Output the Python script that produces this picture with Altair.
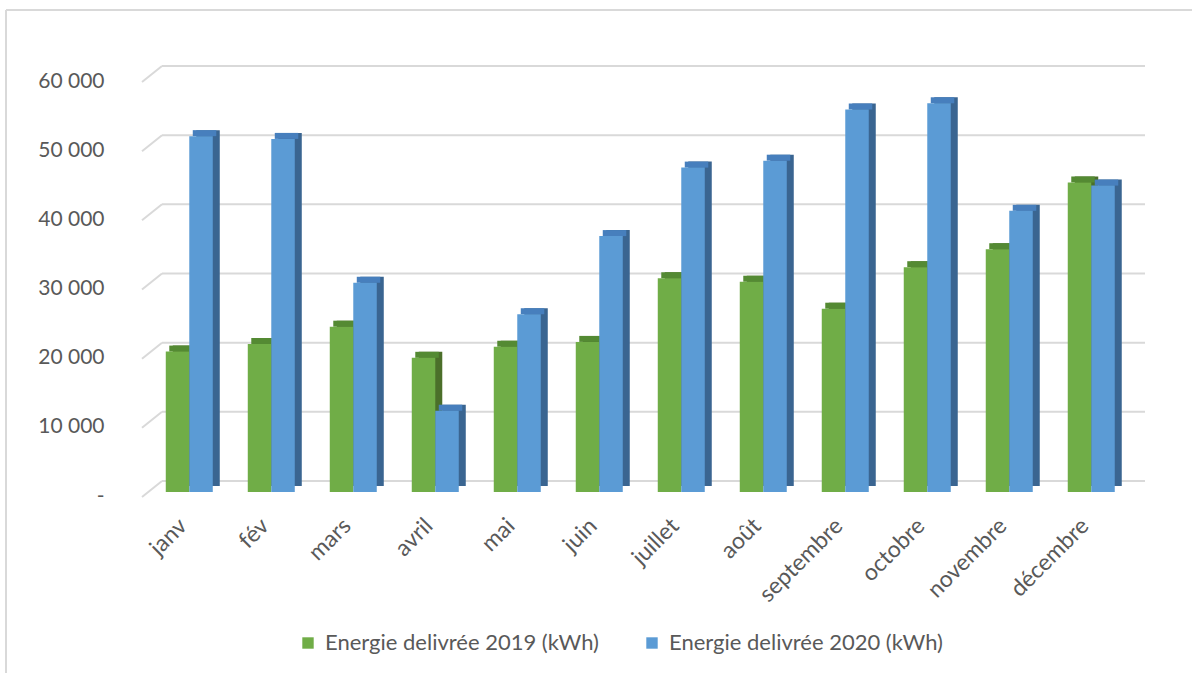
import altair as alt
import pandas as pd

MONTHS = ["janv", "fév", "mars", "avril", "mai", "juin", "juillet", "août",
          "septembre", "octobre", "novembre", "décembre"]
E2019 = [20300, 21400, 23900, 19400, 21000, 21700, 30900, 30400, 26500, 32500, 35100, 44750]
E2020 = [51450, 51050, 30250, 11750, 25700, 37000, 46900, 47900, 55300, 56200, 40650, 44300]
SERIES = ["Energie delivrée 2019 (kWh)", "Energie delivrée 2020 (kWh)"]
TICKS = [0, 10000, 20000, 30000, 40000, 50000, 60000]

FRONT = ["#70ad47", "#5b9bd5"]
TOP = ["#548a33", "#477fbd"]
SIDE = ["#4b6f2a", "#3a6591"]

rows = []
for m, a, b in zip(MONTHS, E2019, E2020):
    rows.append({"month": m, "series": SERIES[0], "value": a})
    rows.append({"month": m, "series": SERIES[1], "value": b})
df = pd.DataFrame(rows)
grid = pd.DataFrame({"v": TICKS})

W, H = 1003, 415
BW = 23.5
DEPTH_X, DEPTH_Y = 7, 6

xs = alt.X("month:N", sort=MONTHS,
           scale=alt.Scale(paddingInner=0, paddingOuter=0.116, align=0.33),
           axis=alt.Axis(title=None, domain=False, ticks=False, labelAngle=-45,
                         labelAlign="right", labelBaseline="middle", labelPadding=30,
                         labelOffset=-6,
                         labelFont="Lato", labelFontSize=23, labelColor="#595959"))
yscale = alt.Scale(domain=[0, 60000], nice=False)
ys = alt.Y("value:Q", scale=yscale,
           axis=alt.Axis(title=None, values=TICKS, grid=False, domain=False, ticks=False,
                         labelPadding=38, labelFont="Lato", labelFontSize=21,
                         labelColor="#595959", labelOffset=4,
                         labelExpr="datum.value == 0 ? '-\u00a0\u00a0\u00a0' : replace(format(datum.value, ','), ',', ' ')"))

color = alt.Color("series:N", scale=alt.Scale(domain=SERIES, range=FRONT),
                  legend=alt.Legend(title=None, orient="none", legendX=155, legendY=555,
                                    direction="horizontal", symbolType="square",
                                    symbolSize=130, symbolStrokeWidth=0, labelFont="Lato",
                                    labelFontSize=22, labelColor="#595959", labelOffset=6,
                                    columnPadding=42, labelLimit=400))

diag = alt.Chart(grid).mark_rule(color="#d9d9d9", strokeWidth=2, yOffset=5, y2Offset=-11).encode(
    x=alt.value(0), x2=alt.value(20),
    y=alt.Y("v:Q", scale=yscale), y2="v:Q")
back = alt.Chart(grid).mark_rule(color="#d9d9d9", strokeWidth=2, yOffset=-11, y2Offset=-11).encode(
    x=alt.value(20), x2=alt.value(W),
    y=alt.Y("v:Q", scale=yscale), y2="v:Q")

layers = [diag, back]
for i, s in enumerate(SERIES):
    off = -BW / 2 if i == 0 else BW / 2
    base = alt.Chart(df).transform_filter(alt.datum.series == s)
    side = base.mark_bar(color=SIDE[i], width=BW, xOffset=off + DEPTH_X,
                         yOffset=-DEPTH_Y, y2Offset=-DEPTH_Y).encode(
        x=xs, y=ys, y2=alt.datum(0))
    top = base.mark_bar(color=TOP[i], width=BW, xOffset=off + DEPTH_X / 2,
                        yOffset=-DEPTH_Y, y2Offset=0).encode(
        x=xs, y=ys, y2="value:Q")
    front = base.mark_bar(width=BW, xOffset=off).encode(x=xs, y=ys, color=color)
    layers += [side, top, front]

frame_v = alt.Chart(grid).mark_rule(color="#d9d9d9", strokeWidth=1.5).encode(
    x=alt.value(-136), y=alt.value(-67), y2=alt.value(700))
frame_h = alt.Chart(grid).mark_rule(color="#d9d9d9", strokeWidth=1.5).encode(
    x=alt.value(-136), x2=alt.value(1100), y=alt.value(-67))
layers += [frame_v, frame_h]

chart = alt.layer(*layers).properties(
    width=W, height=H,
    autosize=alt.AutoSizeParams(type="none"),
    padding={"left": 142, "top": 77, "right": 47, "bottom": 181},
    background="white",
).configure_view(stroke=None)

chart.save("out.html", embed_options={"renderer": "svg", "actions": False})
